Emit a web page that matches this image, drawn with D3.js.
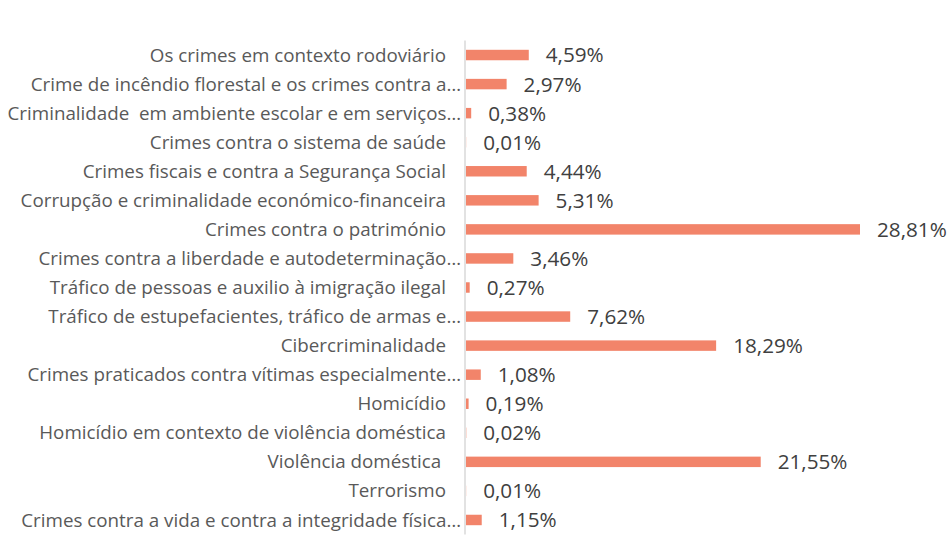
<!DOCTYPE html>
<html>
  <head>
    <meta http-equiv="Content-Type" content="text/html;charset=utf-8"/>
    <style type="text/css">

body {
  margin: 0;
  background: #fff;
  font-family: "Open Sans", sans-serif;
}

.cat {
  font-size: 18.8px;
  fill: #595959;
  white-space: pre;
}

.val {
  font-size: 20.7px;
  fill: #404040;
}

.axis-line {
  stroke: #d9d9d9;
  stroke-width: 1.5px;
}

.bar {
  fill: #f2846a;
}

    </style>
  </head>
  <body>
    <svg></svg>

    <script type="text/javascript" src="https://cdn.jsdelivr.net/npm/d3@7/dist/d3.min.js"></script>

    <script type="text/javascript">

var categories = [
  "Os crimes em contexto rodoviário",
  "Crime de incêndio florestal e os crimes contra a…",
  "Criminalidade  em ambiente escolar e em serviços…",
  "Crimes contra o sistema de saúde",
  "Crimes fiscais e contra a Segurança Social",
  "Corrupção e criminalidade económico-financeira",
  "Crimes contra o património",
  "Crimes contra a liberdade e autodeterminação…",
  "Tráfico de pessoas e auxilio à imigração ilegal",
  "Tráfico de estupefacientes, tráfico de armas e…",
  "Cibercriminalidade",
  "Crimes praticados contra vítimas especialmente…",
  "Homicídio",
  "Homicídio em contexto de violência doméstica",
  "Violência doméstica ",
  "Terrorismo",
  "Crimes contra a vida e contra a integridade física…"
];

var values = [4.59, 2.97, 0.38, 0.01, 4.44, 5.31, 28.81, 3.46, 0.27, 7.62,
              18.29, 1.08, 0.19, 0.02, 21.55, 0.01, 1.15];

var W = 949, H = 558;

var svg = d3.select("svg")
    .attr("width", W)
    .attr("height", H);

var x0 = 466;

var x = d3.scaleLinear()
    .domain([0, 28.81])
    .range([x0, 860]);

var y = d3.scaleBand()
    .domain(categories)
    .range([40.5, 534.5])
    .paddingInner(0.64)
    .paddingOuter(0.32);

var fmt = function(v) { return v.toFixed(2).replace(".", ",") + "%"; };

// bars
svg.append("g")
  .selectAll("rect")
    .data(values)
  .enter().append("rect")
    .attr("class", "bar")
    .attr("x", x0)
    .attr("y", function(d, i) { return y(categories[i]); })
    .attr("width", function(d) { return Math.max(0, x(d) - x0); })
    .attr("height", y.bandwidth());

// axis line
svg.append("line")
    .attr("class", "axis-line")
    .attr("x1", x0 - 1)
    .attr("x2", x0 - 1)
    .attr("y1", y.range()[0])
    .attr("y2", y.range()[1]);

// category labels
svg.append("g")
  .selectAll("text")
    .data(categories)
  .enter().append("text")
    .attr("class", "cat")
    .attr("text-anchor", "end")
    .attr("x", function(d) { return d.slice(-1) === "…" ? 461 : 446; })
    .attr("y", function(d) { return y(d) + y.bandwidth() / 2; })
    .attr("dy", "0.35em")
    .text(function(d) { return d; });

// value labels
svg.append("g")
  .selectAll("text")
    .data(values)
  .enter().append("text")
    .attr("class", "val")
    .attr("x", function(d) { return x(d) + 17; })
    .attr("y", function(d, i) { return y(categories[i]) + y.bandwidth() / 2; })
    .attr("dy", "0.36em")
    .text(fmt);

    </script>
  </body>
</html>
